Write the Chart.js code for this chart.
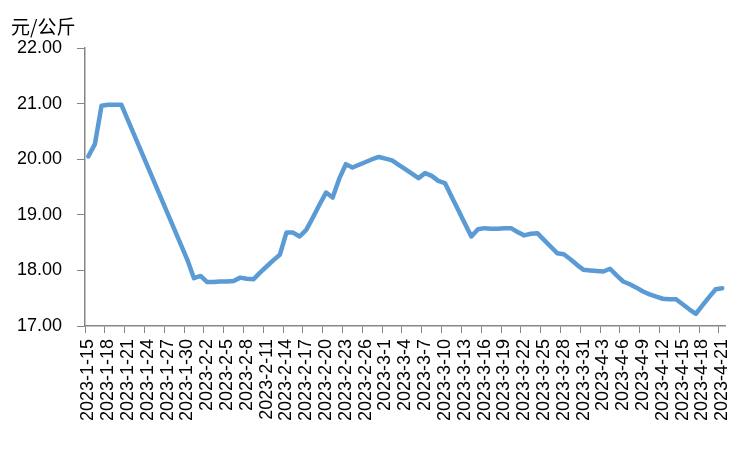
<!DOCTYPE html>
<html>
<head>
<meta charset="utf-8">
<script src="https://cdn.jsdelivr.net/npm/chart.js@4/dist/chart.umd.min.js"></script>
<style>
  html, body { margin: 0; padding: 0; background: #fff; }
  #wrap { width: 750px; height: 450px; }
</style>
</head>
<body>
<div id="wrap"><canvas id="priceChart" width="750" height="450"></canvas></div>
<script>
// 每日一个类别，2023-1-15 至 2023-4-21
let startDate = [2023, 1, 15];
let dayCount = 97;
let unitLabel = '元/公斤';
let yTicks = [17, 18, 19, 20, 21, 22];

// 价格（元/公斤），春节期间无数据用 null
let prices = [
	20.05, 20.27, 20.96, 20.98, 20.98, 20.98,
	null, null, null, null, null, null, null, null, null,
	18.19, 17.86, 17.90, 17.79, 17.79, 17.80, 17.80, 17.81, 17.87, 17.85,
	17.84, 17.96, 18.07, 18.18, 18.28, 18.68, 18.68, 18.61, 18.73, 18.95,
	19.18, 19.40, 19.31, 19.65, 19.91, 19.85, 19.90, 19.95, 20.00, 20.04,
	20.01, 19.98, 19.90, 19.82, 19.74, 19.66, 19.75, 19.70, 19.61, 19.57,
	19.33, 19.09, 18.85, 18.61, 18.74, 18.76, 18.75, 18.75, 18.76, 18.76,
	18.69, 18.63, 18.66, 18.67, 18.55, 18.43, 18.31, 18.29, 18.20, 18.10,
	18.01, 18.00, 17.99, 17.98, 18.03, 17.91, 17.80, 17.75, 17.69, 17.62,
	17.57, 17.53, 17.49, 17.48, 17.48, 17.39, 17.30, 17.22, 17.37, 17.52,
	17.66, 17.68
];

let dates = [];
for (let i = 0; i < dayCount; i++) {
	let d = new Date(startDate[0], startDate[1] - 1, startDate[2] + i);
	dates.push(d.getFullYear() + '-' + (d.getMonth() + 1) + '-' + d.getDate());
}

let axisGray = '#868686';

// 左上角单位
const unitPlugin = {
	id: 'unitText',
	afterDraw(chart) {
		const c = chart.ctx;
		c.save();
		c.font = '19px "Noto Sans CJK SC", sans-serif';
		c.fillStyle = '#000';
		c.textBaseline = 'middle';
		c.textAlign = 'left';
		c.fillText(unitLabel, 11, 27);
		c.restore();
	}
};

var ctx = document.getElementById('priceChart').getContext('2d');
var priceChart = new Chart(ctx, {
	type: 'line',
	data: {
		labels: dates,
		datasets: [{
			data: prices,
			borderColor: '#5B9BD5',
			borderWidth: 4.5,
			pointRadius: 0,
			tension: 0,
			spanGaps: true,
			borderJoinStyle: 'round',
			borderCapStyle: 'round'
		}]
	},
	options: {
		responsive: false,
		animation: false,
		layout: { padding: { top: 48, right: 22, left: 0, bottom: 0 } },
		plugins: {
			legend: { display: false },
			tooltip: { enabled: false }
		},
		scales: {
			x: {
				offset: true,
				grid: {
					offset: true,
					drawOnChartArea: false,
					tickLength: 7,
					tickColor: (c) => (c.index % 3 === 0 ? axisGray : 'rgba(0,0,0,0)')
				},
				border: { color: axisGray, width: 1.5 },
				ticks: {
					autoSkip: false,
					maxRotation: 90,
					minRotation: 90,
					padding: 6,
					color: '#000',
					font: { size: 18, family: '"Liberation Sans", Arial, sans-serif' },
					callback: function (v, i) { return i % 3 === 0 ? dates[i] : ''; }
				},
				afterFit: function (s) { s.height = 124; }
			},
			y: {
				min: yTicks[0],
				max: yTicks[yTicks.length - 1],
				afterBuildTicks: function (s) { s.ticks = yTicks.map(v => ({ value: v })); },
				grid: { drawOnChartArea: false, tickLength: 8, tickColor: axisGray },
				border: { color: axisGray, width: 1.5 },
				ticks: {
					padding: 15,
					color: '#000',
					font: { size: 18, family: '"Liberation Sans", Arial, sans-serif' },
					callback: function (v) { return Number(v).toFixed(2); }
				},
				afterFit: function (s) { s.width = 85; }
			}
		}
	},
	plugins: [unitPlugin]
});
</script>
</body>
</html>
